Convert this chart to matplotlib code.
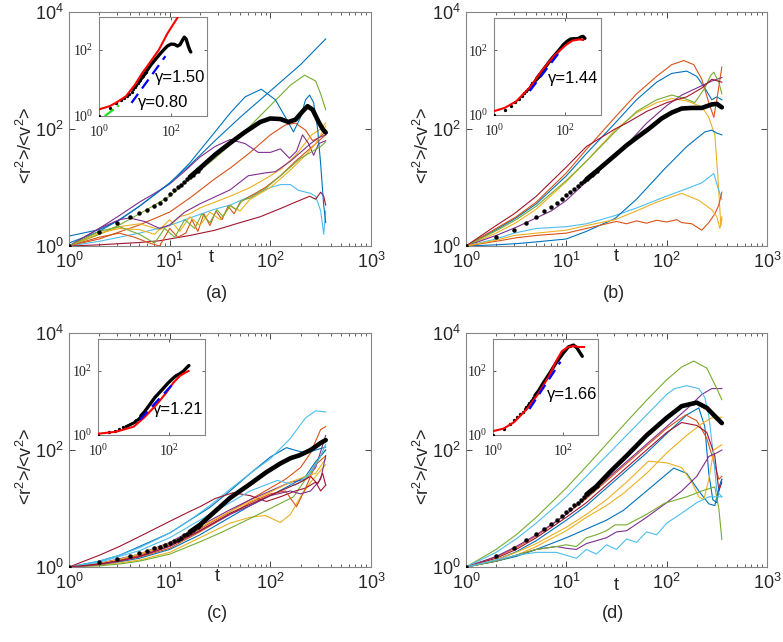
import numpy as np
import matplotlib
matplotlib.use('Agg')
import matplotlib.pyplot as plt
from matplotlib.ticker import FixedLocator, LogLocator, NullLocator, FuncFormatter

plt.rcParams['font.family'] = ['Liberation Sans', 'DejaVu Sans']
plt.rcParams['mathtext.fontset'] = 'custom'
plt.rcParams['mathtext.rm'] = 'Liberation Sans'
plt.rcParams['mathtext.it'] = 'Liberation Sans:italic'
plt.rcParams['mathtext.sf'] = 'Liberation Serif'

# MATLAB default colour order
BLUE, ORANGE, YELLOW, PURPLE, GREEN, CYAN, DARKRED = (
    '#0072BD', '#D95319', '#EDB120', '#7E2F8E', '#77AC30', '#4DBEEE', '#A2142F')

# All curve values as log10(t) / log10(<r2>/<v2>)
# ---------------- panel (a) ----------------
a_blue1_lt = [0, .3, .5, .7, 1.0, 1.2, 1.45, 1.6, 1.75, 1.91, 2.05, 2.15, 2.23, 2.3, 2.35, 2.39, 2.43, 2.47, 2.5, 2.53, 2.55]
a_blue1_ly = [.17, .28, .44, .68, 1.07, 1.42, 1.95, 2.27, 2.55, 2.68, 2.5, 2.2, 1.95, 2.2, 2.5, 2.58, 2.45, 2.0, 1.4, 0.7, 0.4]
a_blue2_lt = [0, .3, .5, .7, 1.0, 1.2, 1.45, 1.7, 2.0, 2.3, 2.55]
a_blue2_ly = [.05, .25, .45, .68, 1.08, 1.38, 1.8, 2.2, 2.65, 3.1, 3.54]
a_green1_lt = [0, .3, .5, .7, 1.0, 1.2, 1.45, 1.7, 2.0, 2.2, 2.34, 2.45, 2.5, 2.55]
a_green1_ly = [0, .2, .36, .55, .85, 1.15, 1.5, 1.88, 2.4, 2.75, 2.92, 2.82, 2.6, 2.33]
a_purple1_lt = [0, .3, .5, .7, .85, 1.0, 1.15, 1.3, 1.45, 1.6, 1.75, 1.88, 2.0, 2.1, 2.19, 2.26, 2.32, 2.38, 2.43, 2.48, 2.55]
a_purple1_ly = [0, .3, .52, .75, .9, 1.06, 1.28, 1.52, 1.7, 1.82, 1.75, 1.6, 1.6, 1.66, 1.5, 1.62, 1.9, 1.75, 1.55, 1.75, 1.8]
a_orange1_lt = [0, .3, .5, .7, 1.0, 1.2, 1.45, 1.6, 1.8, 2.0, 2.15, 2.25, 2.35, 2.42, 2.48, 2.55]
a_orange1_ly = [0, .12, .24, .36, .58, .82, 1.15, 1.33, 1.6, 1.9, 2.07, 2.1, 1.98, 1.8, 1.85, 1.95]
a_purple2_lt = [0, .3, .5, .6, .75, .9, 1.0, 1.15, 1.3, 1.45, 1.6, 1.78, 1.95, 2.05, 2.2, 2.3, 2.4, 2.48, 2.55]
a_purple2_ly = [0, .3, .45, .48, .42, .3, .36, .58, .72, .84, .96, 1.2, 1.25, 1.27, 1.45, 1.6, 1.75, 1.85, 1.9]
a_yellow1_lt = [0, .3, .5, .7, .9, 1.0, 1.1, 1.2, 1.3, 1.45, 1.6, 1.8, 2.0, 2.11, 2.25, 2.41, 2.5, 2.55]
a_yellow1_ly = [0, .2, .33, .38, .28, .35, .5, .55, .65, .75, .85, 1.0, 1.2, 1.32, 1.55, 1.9, 2.0, 2.1]
a_green2_lt = [0, .3, .5, .7, .85, .95, 1.05, 1.15, 1.25, 1.32, 1.4, 1.47, 1.53, 1.6, 1.66, 1.72, 1.8, 1.95, 2.1, 2.2, 2.3, 2.4, 2.5, 2.55]
a_green2_ly = [0, .25, .33, .2, .05, .3, .15, .45, .3, .55, .4, .62, .5, .7, .62, .78, .82, .98, 1.2, 1.35, 1.5, 1.6, 1.7, 1.78]
a_cyan_lt = [0, .3, .5, .7, 1.0, 1.2, 1.45, 1.6, 1.8, 2.0, 2.1, 2.2, 2.28, 2.33, 2.4, 2.45, 2.5, 2.53, 2.55]
a_cyan_ly = [0, .08, .15, .22, .35, .48, .63, .7, .85, 1.0, 1.05, 1.05, .95, .93, .9, .85, .6, .2, .6]
a_darkred_lt = [0, .3, .5, .7, .9, 1.0, 1.2, 1.45, 1.7, 1.9, 2.1, 2.25, 2.39, 2.45, 2.5, 2.53, 2.55]
a_darkred_ly = [0, .02, .04, .06, .09, .12, .18, .27, .4, .5, .64, .75, .85, .8, .92, .85, .7]
a_orange2_lt = [0, .3, .5, .65, .8, .9, 1.0, 1.08, 1.16, 1.22, 1.28, 1.34, 1.4, 1.46, 1.52, 1.58, 1.64, 1.7, 1.8, 1.95, 2.1, 2.25, 2.35, 2.45, 2.55]
a_orange2_ly = [0, .15, .22, .15, .05, 0.0, .3, .15, .22, .45, .25, .55, .35, .6, .45, .68, .55, .75, .85, 1.0, 1.2, 1.45, 1.6, 1.75, 1.9]
a_yellow2_lt = [0, .3, .5, .7, .85, 1.0, 1.1, 1.2, 1.3, 1.4, 1.5, 1.6, 1.7, 1.8, 2.0, 2.2, 2.35, 2.45, 2.55]
a_yellow2_ly = [0, .22, .3, .28, .2, .45, .25, .5, .35, .58, .45, .68, .6, .8, 1.0, 1.3, 1.55, 1.75, 2.05]
a_dots_ly = [0, .24, .40, .49, .56, .62, .68, .74, .81, .89, .95, 1.0, 1.05, 1.1, 1.14, 1.18, 1.22, 1.26, 1.29, 1.33]
a_mean_lt = [1.2, 1.3, 1.45, 1.6, 1.75, 1.9, 2.0, 2.1, 2.18, 2.25, 2.32, 2.37, 2.42, 2.48, 2.52, 2.55]
a_mean_ly = [1.18, 1.33, 1.56, 1.76, 1.95, 2.12, 2.18, 2.17, 2.12, 2.16, 2.3, 2.39, 2.33, 2.12, 2.0, 1.94]

# ---------------- panel (b) ----------------
b_orange1_lt = [0, .3, .5, .7, 1, 1.2, 1.485, 1.7, 1.9, 2.05, 2.17, 2.27, 2.35, 2.42, 2.47, 2.5, 2.55]
b_orange1_ly = [0, .3, .5, .75, 1.25, 1.65, 2.2, 2.6, 2.9, 3.1, 3.17, 3.1, 2.85, 2.45, 2.2, 2.5, 3.06]
b_blue1_lt = [0, .3, .5, .7, 1, 1.2, 1.485, 1.7, 1.9, 2.05, 2.2, 2.3, 2.38, 2.45, 2.5, 2.55]
b_blue1_ly = [0, .28, .48, .72, 1.2, 1.58, 2.1, 2.5, 2.8, 2.95, 2.99, 2.9, 2.7, 2.5, 2.55, 2.5]
b_green_lt = [0, .3, .5, .7, 1, 1.2, 1.485, 1.7, 1.9, 2.05, 2.18, 2.28, 2.38, 2.44, 2.47, 2.52, 2.55]
b_green_ly = [0, .26, .45, .68, 1.12, 1.45, 1.95, 2.3, 2.5, 2.58, 2.52, 2.45, 2.7, 2.92, 2.97, 2.8, 2.6]
b_darkred_lt = [0, .3, .48, .7, 1, 1.2, 1.485, 1.6, 1.8, 2.0, 2.2, 2.35, 2.45, 2.55]
b_darkred_ly = [0, .35, .55, .85, 1.35, 1.7, 2.0, 2.1, 2.3, 2.45, 2.55, 2.7, 2.85, 2.8]
b_purple_lt = [0, .3, .5, .7, .85, 1, 1.2, 1.4, 1.6, 1.8, 2.0, 2.15, 2.3, 2.45, 2.55]
b_purple_ly = [0, .18, .32, .48, .6, .78, 1.1, 1.4, 1.73, 2.1, 2.4, 2.58, 2.7, 2.82, 2.88]
b_yellow1_lt = [0, .3, .5, .7, 1, 1.2, 1.485, 1.7, 1.9, 2.05, 2.2, 2.35, 2.42, 2.48, 2.51, 2.54, 2.55]
b_yellow1_ly = [0, .22, .4, .63, 1.1, 1.45, 1.98, 2.28, 2.45, 2.52, 2.48, 2.38, 2.2, 1.9, 1.2, .35, .5]
b_blue2_lt = [0, .3, .5, .7, 1, 1.2, 1.485, 1.7, 1.98, 2.2, 2.38, 2.45, 2.5, 2.55]
b_blue2_ly = [0, .02, .04, .07, .12, .25, .47, .8, 1.32, 1.7, 1.95, 1.98, 1.93, 1.9]
b_cyan_lt = [0, .3, .48, .7, 1, 1.2, 1.485, 1.7, 1.98, 2.2, 2.35, 2.47, 2.51, 2.55]
b_cyan_ly = [0, .12, .22, .3, .33, .38, .52, .65, .84, .98, 1.08, 1.24, 1.0, .8]
b_yellow2_lt = [0, .3, .48, .7, 1, 1.2, 1.485, 1.7, 1.9, 2.15, 2.32, 2.45, 2.5, 2.53, 2.55]
b_yellow2_ly = [0, .1, .18, .22, .27, .35, .45, .6, .75, .9, .78, .62, .5, .3, .45]
b_orange2_lt = [0, .3, .5, .7, 1, 1.2, 1.4, 1.5, 1.6, 1.7, 1.8, 1.9, 2.0, 2.1, 2.15, 2.25, 2.35, 2.42, 2.48, 2.52, 2.55]
b_orange2_ly = [0, .08, .14, .18, .22, .3, .38, .42, .38, .43, .39, .44, .41, .45, .4, .38, .27, .4, .55, .7, .92]
b_dots_ly = [0, .15, .28, .4, .5, .59, .67, .74, .81, .88, .93, .98, 1.02, 1.07, 1.11, 1.14, 1.18, 1.22, 1.25, 1.28]
b_mean_lt = [1.2, 1.3, 1.485, 1.6, 1.7, 1.82, 1.95, 2.05, 2.15, 2.25, 2.35, 2.45, 2.5, 2.55]
b_mean_ly = [1.14, 1.28, 1.55, 1.72, 1.85, 2.0, 2.18, 2.28, 2.35, 2.36, 2.36, 2.42, 2.43, 2.37]

# ---------------- panel (c) ----------------
c_cyan1_lt = [0, .3, .5, .7, 1, 1.2, 1.4, 1.6, 1.8, 2.0, 2.2, 2.35, 2.45, 2.55]
c_cyan1_ly = [0, .1, .2, .33, .58, .8, 1.05, 1.33, 1.6, 1.85, 2.2, 2.55, 2.67, 2.65]
c_blue1_lt = [0, .3, .5, .7, 1, 1.2, 1.4, 1.6, 1.8, 2.0, 2.16, 2.28, 2.36, 2.45, 2.55]
c_blue1_ly = [0, .1, .2, .35, .58, .8, 1.02, 1.3, 1.6, 1.88, 2.04, 1.98, 1.95, 2.0, 2.05]
c_darkred1_lt = [0, .3, .5, .7, 1, 1.2, 1.3, 1.45, 1.63, 1.8, 1.96, 2.1, 2.25, 2.35, 2.45, 2.5, 2.55]
c_darkred1_ly = [0, .2, .35, .52, .78, .95, 1.03, 1.17, 1.27, 1.22, 1.12, 1.2, 1.3, 1.35, 1.45, 1.3, 1.4]
c_orange1_lt = [0, .3, .5, .7, 1, 1.2, 1.4, 1.6, 1.8, 2.0, 2.15, 2.3, 2.4, 2.5, 2.55]
c_orange1_ly = [0, .05, .12, .2, .38, .55, .75, .95, 1.15, 1.35, 1.5, 1.7, 1.95, 2.35, 2.4]
c_orange2_lt = [0, .3, .5, .7, 1, 1.3, 1.6, 1.8, 2.0, 2.15, 2.26, 2.35, 2.45, 2.55]
c_orange2_ly = [0, .04, .1, .17, .32, .6, .9, 1.1, 1.25, 1.3, 1.03, 1.35, 1.75, 1.9]
c_yellow1_lt = [0, .3, .5, .7, 1, 1.3, 1.6, 1.8, 1.95, 2.1, 2.2, 2.3, 2.4, 2.5, 2.55]
c_yellow1_ly = [0, .03, .07, .12, .25, .5, .75, .85, .88, .76, .9, 1.2, 1.45, 1.65, 1.75]
c_green_lt = [0, .3, .5, .7, 1, 1.3, 1.5, 1.8, 2.0, 2.23, 2.39, 2.5, 2.55]
c_green_ly = [0, .02, .05, .1, .22, .43, .58, .83, 1.0, 1.2, 1.6, 1.9, 2.0]
c_purple1_lt = [0, .3, .5, .7, 1, 1.3, 1.6, 1.8, 2.0, 2.2, 2.35, 2.45, 2.55]
c_purple1_ly = [0, .06, .14, .22, .42, .7, .98, 1.15, 1.3, 1.45, 1.5, 1.7, 2.25]
c_purple2_lt = [0, .3, .5, .7, 1, 1.3, 1.6, 1.8, 2.0, 2.2, 2.3, 2.4, 2.5, 2.55]
c_purple2_ly = [0, .05, .1, .18, .35, .62, .9, 1.05, 1.22, 1.3, 1.25, 1.3, 1.5, 1.9]
c_yellow2_lt = [0, .3, .5, .7, 1, 1.3, 1.6, 1.8, 2.0, 2.2, 2.35, 2.45, 2.55]
c_yellow2_ly = [0, .06, .13, .22, .4, .68, .95, 1.12, 1.28, 1.45, 1.55, 1.6, 1.85]
c_cyan2_lt = [0, .3, .5, .7, 1, 1.3, 1.6, 1.8, 2.07, 2.25, 2.4, 2.5, 2.55]
c_cyan2_ly = [0, .08, .18, .28, .5, .8, 1.1, 1.3, 1.48, 1.4, 1.6, 1.9, 2.1]
c_blue2_lt = [0, .3, .5, .7, 1, 1.3, 1.6, 1.8, 2.0, 2.2, 2.35, 2.45, 2.55]
c_blue2_ly = [0, .04, .09, .15, .3, .55, .85, 1.05, 1.22, 1.4, 1.55, 1.8, 2.0]
c_darkred2_lt = [0, .3, .5, .7, 1, 1.3, 1.6, 1.9, 2.1, 2.3, 2.4, 2.47, 2.52, 2.55]
c_darkred2_ly = [0, .05, .11, .18, .36, .62, .92, 1.15, 1.3, 1.45, 1.55, 1.42, 1.6, 1.4]
c_dots_ly = [0, .09, .13, .19, .24, .28, .32, .35, .38, .41, .44, .47, .5, .54, .57, .6, .63, .66, .69, .72]
c_mean_lt = [1.2, 1.3, 1.45, 1.6, 1.8, 1.96, 2.1, 2.2, 2.29, 2.4, 2.5, 2.55]
c_mean_ly = [.6, .72, .95, 1.18, 1.42, 1.62, 1.77, 1.86, 1.91, 2.0, 2.12, 2.17]

# ---------------- panel (d) ----------------
d_green1_lt = [0, .3, .5, .7, 1, 1.2, 1.4, 1.6, 1.8, 2.0, 2.15, 2.27, 2.4, 2.5, 2.55]
d_green1_ly = [0, .3, .55, .85, 1.35, 1.72, 2.1, 2.48, 2.85, 3.2, 3.42, 3.52, 3.4, 3.05, 2.86]
d_cyan1_lt = [0, .3, .5, .7, 1, 1.2, 1.4, 1.6, 1.8, 2.0, 2.08, 2.2, 2.32, 2.38, 2.42, 2.46, 2.5, 2.55]
d_cyan1_ly = [0, .25, .48, .75, 1.2, 1.55, 1.9, 2.25, 2.6, 2.95, 3.05, 3.1, 3.05, 2.9, 2.58, 2.0, 1.3, 1.2]
d_purple1_lt = [0, .3, .5, .7, 1, 1.2, 1.4, 1.6, 1.8, 2.0, 2.2, 2.35, 2.45, 2.55]
d_purple1_ly = [0, .18, .35, .55, .9, 1.2, 1.5, 1.8, 2.1, 2.4, 2.7, 2.95, 3.05, 3.05]
d_orange_lt = [0, .3, .5, .7, 1, 1.2, 1.4, 1.6, 1.8, 2.0, 2.19, 2.3, 2.4, 2.47, 2.52, 2.55]
d_orange_ly = [0, .17, .33, .53, .9, 1.17, 1.47, 1.77, 2.07, 2.37, 2.6, 2.5, 2.2, 1.8, 1.5, 1.55]
d_darkred_lt = [0, .3, .5, .7, 1, 1.2, 1.4, 1.6, 1.8, 2.0, 2.15, 2.3, 2.4, 2.48, 2.52, 2.55]
d_darkred_ly = [0, .15, .3, .5, .85, 1.1, 1.4, 1.7, 2.0, 2.3, 2.47, 2.42, 2.3, 1.9, 1.3, 1.45]
d_blue1_lt = [0, .3, .5, .7, 1, 1.2, 1.4, 1.6, 1.8, 2.0, 2.2, 2.32, 2.38, 2.42, 2.46, 2.5, 2.53, 2.55]
d_blue1_ly = [0, .12, .26, .45, .8, 1.05, 1.35, 1.65, 1.95, 2.28, 2.6, 2.72, 2.4, 1.6, 1.15, 1.1, 1.4, 1.5]
d_yellow1_lt = [0, .3, .5, .7, 1, 1.2, 1.4, 1.57, 1.8, 2.0, 2.2, 2.35, 2.45, 2.55]
d_yellow1_ly = [0, .1, .2, .35, .62, .85, 1.05, 1.26, 1.6, 1.95, 2.25, 2.45, 2.55, 2.56]
d_yellow2_lt = [0, .3, .5, .7, 1, 1.2, 1.4, 1.6, 1.82, 2.0, 2.15, 2.25, 2.32, 2.37, 2.42, 2.47, 2.55]
d_yellow2_ly = [0, .12, .25, .4, .68, .9, 1.15, 1.45, 1.81, 1.78, 1.7, 1.45, 1.2, 1.15, 1.5, 2.0, 2.09]
d_blue2_lt = [0, .3, .5, .7, 1, 1.2, 1.4, 1.57, 1.8, 2.07, 2.2, 2.32, 2.42, 2.48, 2.52, 2.55]
d_blue2_ly = [0, .1, .18, .3, .5, .65, .8, .97, 1.3, 1.69, 1.6, 1.3, 1.08, 1.05, 1.35, 1.5]
d_green2_lt = [0, .3, .5, .7, .9, 1.0, 1.1, 1.2, 1.3, 1.4, 1.485, 1.6, 1.8, 1.98, 2.2, 2.35, 2.48, 2.52, 2.55]
d_green2_ly = [0, .1, .2, .3, .35, .38, .35, .5, .55, .62, .72, .72, .9, 1.09, 1.2, 1.3, 1.37, 1.0, .47]
d_purple2_lt = [0, .3, .5, .7, .9, 1.0, 1.1, 1.2, 1.3, 1.4, 1.5, 1.6, 1.8, 2.0, 2.15, 2.3, 2.42, 2.5, 2.55]
d_purple2_ly = [0, .1, .2, .3, .35, .32, .3, .4, .45, .5, .6, .62, .85, 1.1, 1.3, 1.55, 1.89, 1.95, 2.0]
d_cyan2_lt = [0, .3, .5, .7, .9, 1.0, 1.1, 1.2, 1.3, 1.4, 1.5, 1.6, 1.7, 1.8, 1.9, 2.0, 2.15, 2.3, 2.42, 2.5, 2.55]
d_cyan2_ly = [0, .12, .2, .25, .25, .2, .15, .3, .22, .38, .3, .48, .42, .6, .55, .75, .92, 1.1, 1.2, 1.2, 1.2]
d_dots_ly = [0, .18, .33, .46, .56, .65, .73, .8, .87, .94, 1.0, 1.06, 1.1, 1.15, 1.2, 1.24, 1.28, 1.32, 1.35, 1.38]
d_mean_lt = [1.2, 1.3, 1.45, 1.6, 1.8, 2.0, 2.15, 2.3, 2.4, 2.48, 2.55]
d_mean_ly = [1.24, 1.38, 1.65, 1.9, 2.25, 2.55, 2.75, 2.81, 2.72, 2.58, 2.46]

dot_t = list(range(1, 21))

# ---------------- insets: fits ----------------
ia_red_lt = [0, .3, .5, .75, 1.0, 1.2, 1.4, 1.66, 1.9, 2.25]
ia_red_ly = [.2, .3, .42, .6, .95, 1.3, 1.6, 2.0, 2.5, 3.1]
ia_blue_t, ia_blue_y = [8, 70], [2.5, 65]
ia_green_t, ia_green_y = [1.45, 4.5], [1.0, 2.5]
ib_red_lt = [0, .3, .62, 1.0, 1.37, 1.7, 2.02, 2.2, 2.39, 2.5]
ib_red_ly = [.12, .22, .42, .85, 1.41, 1.85, 2.17, 2.3, 2.34, 2.32]
ib_blue_t, ib_blue_y = [10, 68], [5.5, 87]
ic_red_lt = [0, .5, 1.0, 1.3, 1.64, 1.9, 2.11, 2.3, 2.45, 2.54]
ic_red_ly = [.04, .1, .26, .55, .95, 1.3, 1.63, 1.85, 1.95, 2.0]
ic_blue_t, ic_blue_y = [15, 130], [3.0, 41]
id_red_lt = [0, .3, .6, 1.0, 1.3, 1.6, 1.8, 1.97, 2.15, 2.3, 2.45, 2.6]
id_red_ly = [.12, .2, .4, .85, 1.3, 1.84, 2.3, 2.62, 2.75, 2.78, 2.75, 2.75]
id_blue_t, id_blue_y = [11, 85], [6.5, 195]

gamma_labels = ['\u03b3=1.50', '\u03b3=1.44', '\u03b3=1.21', '\u03b3=1.66']
gamma_low_label = '\u03b3=0.80'
captions = ['(a)', '(b)', '(c)', '(d)']

P = lambda v: np.power(10.0, np.asarray(v, dtype=float))

panels = [
    dict(curves=[(a_blue2_lt, a_blue2_ly, BLUE), (a_orange1_lt, a_orange1_ly, ORANGE), (a_yellow1_lt, a_yellow1_ly, YELLOW),
                 (a_purple1_lt, a_purple1_ly, PURPLE), (a_green1_lt, a_green1_ly, GREEN), (a_cyan_lt, a_cyan_ly, CYAN),
                 (a_darkred_lt, a_darkred_ly, DARKRED), (a_blue1_lt, a_blue1_ly, BLUE), (a_orange2_lt, a_orange2_ly, ORANGE),
                 (a_yellow2_lt, a_yellow2_ly, YELLOW), (a_purple2_lt, a_purple2_ly, PURPLE), (a_green2_lt, a_green2_ly, GREEN)],
         dots=a_dots_ly, mean=(a_mean_lt, a_mean_ly),
         red=(ia_red_lt, ia_red_ly), blue=(ia_blue_t, ia_blue_y), green=(ia_green_t, ia_green_y),
         pos=[69, 12, 302, 234], ipos=[99, 17, 108, 99], gpos=(36, 15), gpos2=(12, 2.5), tpos=(0.47, -0.05)),
    dict(curves=[(b_blue1_lt, b_blue1_ly, BLUE), (b_orange1_lt, b_orange1_ly, ORANGE), (b_yellow1_lt, b_yellow1_ly, YELLOW),
                 (b_purple_lt, b_purple_ly, PURPLE), (b_green_lt, b_green_ly, GREEN), (b_cyan_lt, b_cyan_ly, CYAN),
                 (b_darkred_lt, b_darkred_ly, DARKRED), (b_blue2_lt, b_blue2_ly, BLUE), (b_orange2_lt, b_orange2_ly, ORANGE),
                 (b_yellow2_lt, b_yellow2_ly, YELLOW)],
         dots=b_dots_ly, mean=(b_mean_lt, b_mean_ly),
         red=(ib_red_lt, ib_red_ly), blue=(ib_blue_t, ib_blue_y), green=None,
         pos=[466, 12, 301, 234], ipos=[494, 18, 107, 97], gpos=(32, 13), gpos2=None, tpos=(0.50, -0.046)),
    dict(curves=[(c_blue1_lt, c_blue1_ly, BLUE), (c_orange1_lt, c_orange1_ly, ORANGE), (c_yellow1_lt, c_yellow1_ly, YELLOW),
                 (c_purple1_lt, c_purple1_ly, PURPLE), (c_green_lt, c_green_ly, GREEN), (c_cyan1_lt, c_cyan1_ly, CYAN),
                 (c_darkred1_lt, c_darkred1_ly, DARKRED), (c_blue2_lt, c_blue2_ly, BLUE), (c_orange2_lt, c_orange2_ly, ORANGE),
                 (c_yellow2_lt, c_yellow2_ly, YELLOW), (c_purple2_lt, c_purple2_ly, PURPLE), (c_cyan2_lt, c_cyan2_ly, CYAN),
                 (c_darkred2_lt, c_darkred2_ly, DARKRED)],
         dots=c_dots_ly, mean=(c_mean_lt, c_mean_ly),
         red=(ic_red_lt, ic_red_ly), blue=(ic_blue_t, ic_blue_y), green=None,
         pos=[69, 333, 302, 234], ipos=[98, 339, 107, 96], gpos=(35, 6.2), gpos2=None, tpos=(0.49, -0.04)),
    dict(curves=[(d_blue1_lt, d_blue1_ly, BLUE), (d_orange_lt, d_orange_ly, ORANGE), (d_yellow1_lt, d_yellow1_ly, YELLOW),
                 (d_purple1_lt, d_purple1_ly, PURPLE), (d_green1_lt, d_green1_ly, GREEN), (d_cyan1_lt, d_cyan1_ly, CYAN),
                 (d_darkred_lt, d_darkred_ly, DARKRED), (d_blue2_lt, d_blue2_ly, BLUE), (d_yellow2_lt, d_yellow2_ly, YELLOW),
                 (d_purple2_lt, d_purple2_ly, PURPLE), (d_green2_lt, d_green2_ly, GREEN), (d_cyan2_lt, d_cyan2_ly, CYAN)],
         dots=d_dots_ly, mean=(d_mean_lt, d_mean_ly),
         red=(id_red_lt, id_red_ly), blue=(id_blue_t, id_blue_y), green=None,
         pos=[466, 333, 301, 234], ipos=[493, 339, 105, 96], gpos=(35, 18.6), gpos2=None, tpos=(0.50, -0.077)),
]

W, H = 783, 642
fig = plt.figure(figsize=(W / 100, H / 100), dpi=100)


def rect(p):
    x, y, w, h = p
    return [x / W, 1 - (y + h) / H, w / W, h / H]


main_fmt = FuncFormatter(lambda v, p: r'$10^{%d}$' % int(round(np.log10(v))))
ins_fmt = FuncFormatter(lambda v, p: r'$\mathsf{10^{%d}}$' % int(round(np.log10(v))))
EDGE = '#858585'
TICK = '#262626'

for k, pnl in enumerate(panels):
    ax = fig.add_axes(rect(pnl['pos']))
    ax.set_xscale('log')
    ax.set_yscale('log')
    for lt, ly, col in pnl['curves']:
        ax.plot(P(lt), P(ly), color=col, lw=0.8)
    ax.plot(P(pnl['mean'][0]), P(pnl['mean'][1]), color='black', lw=3.3, solid_capstyle='round', zorder=5)
    ax.plot(dot_t, P(pnl['dots']), 'o', color='black', ms=3.2, mec='none', zorder=5)
    ax.set_xlim(1, 1000)
    ax.set_ylim(1, 1e4)
    ax.xaxis.set_major_locator(FixedLocator([1, 10, 100, 1000]))
    ax.xaxis.set_minor_locator(LogLocator(base=10, subs=np.arange(2, 10), numticks=20))
    ax.yaxis.set_major_locator(FixedLocator([1, 1e2, 1e4]))
    ax.yaxis.set_minor_locator(NullLocator())
    ax.xaxis.set_major_formatter(main_fmt)
    ax.yaxis.set_major_formatter(main_fmt)
    ax.tick_params(which='both', direction='in', top=True, right=True, color=TICK, labelcolor=TICK)
    ax.tick_params(which='major', length=4, width=0.6, labelsize=13, pad=4)
    ax.tick_params(which='minor', length=2.2, width=0.5)
    for s in ax.spines.values():
        s.set_color(EDGE)
        s.set_linewidth(0.8)
    ax.set_ylabel(r'<r$^2$>/<v$^2$>', fontsize=13, color=TICK)
    ax.yaxis.set_label_coords(-0.108, 0.43)
    ax.text(pnl['tpos'][0], pnl['tpos'][1], 't', transform=ax.transAxes, ha='center', va='center',
            fontsize=13, color=TICK)
    cx = (pnl['pos'][0] + pnl['pos'][2] * 0.49) / W
    cy = 1 - (293 if k < 2 else 613) / H
    fig.text(cx, cy, captions[k], ha='center', va='center', fontsize=13, color=TICK)

    # inset
    ia = fig.add_axes(rect(pnl['ipos']))
    ia.set_xscale('log')
    ia.set_yscale('log')
    ia.plot(P(pnl['mean'][0]), P(pnl['mean'][1]), color='black', lw=2.4, solid_capstyle='round', zorder=3)
    ia.plot(dot_t, P(pnl['dots']), 'o', color='black', ms=2.4, mec='none', zorder=3)
    ia.plot(P(pnl['red'][0]), P(pnl['red'][1]), color='#FF0000', lw=1.5, zorder=4)
    ia.plot(pnl['blue'][0], pnl['blue'][1], color='#0000FF', lw=1.6, ls=(0, (5, 3)), zorder=5)
    if pnl['green'] is not None:
        ia.plot(pnl['green'][0], pnl['green'][1], color='#22DD22', lw=1.6, ls=(0, (5, 2, 1, 2)), zorder=5)
    ia.set_xlim(1, 1000)
    ia.set_ylim(1, 1000)
    ia.xaxis.set_major_locator(FixedLocator([1, 100]))
    ia.yaxis.set_major_locator(FixedLocator([1, 100]))
    ia.xaxis.set_minor_locator(NullLocator())
    ia.yaxis.set_minor_locator(NullLocator())
    ia.xaxis.set_major_formatter(ins_fmt)
    ia.yaxis.set_major_formatter(ins_fmt)
    ia.tick_params(which='both', direction='in', top=True, right=True, color=TICK, labelcolor=TICK,
                   length=2.5, width=0.5, labelsize=10)
    ia.tick_params(axis='x', pad=6)
    ia.tick_params(axis='y', pad=4)
    for s in ia.spines.values():
        s.set_color(EDGE)
        s.set_linewidth(0.8)
    ia.text(pnl['gpos'][0], pnl['gpos'][1], gamma_labels[k], ha='left', va='center', fontsize=12, color='black')
    if pnl['gpos2'] is not None:
        ia.text(pnl['gpos2'][0], pnl['gpos2'][1], gamma_low_label, ha='left', va='center', fontsize=12, color='black')

fig.savefig('out.png', dpi=100)
